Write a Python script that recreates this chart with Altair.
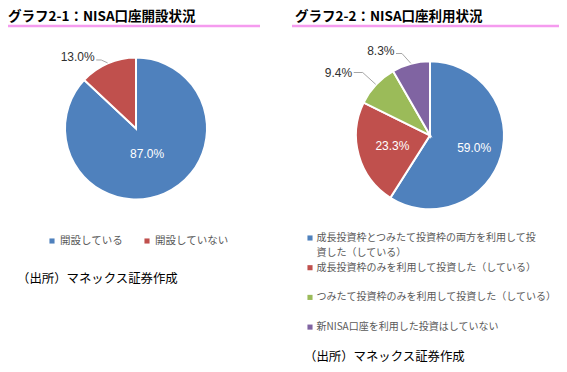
import math
import altair as alt
import pandas as pd

# ---------------- data ----------------
left_title = "グラフ2-1：NISA口座開設状況"
right_title = "グラフ2-2：NISA口座利用状況"
left_categories = ["開設している", "開設していない"]
left_values = [87.0, 13.0]
right_categories = [
    "成長投資枠とつみたて投資枠の両方を利用して投資した（している）",
    "成長投資枠のみを利用して投資した（している）",
    "つみたて投資枠のみを利用して投資した（している）",
    "新NISA口座を利用した投資はしていない",
]
right_values = [59.0, 23.3, 9.4, 8.3]
source_text = "（出所）マネックス証券作成"

# ---------------- style ----------------
palette = ["#4F81BD", "#C0504D", "#9BBB59", "#8064A2"]
OFF = 8
JP = "Noto Sans CJK JP"
NUM = "Liberation Sans"
W, H = 551, 356

# pie geometry (page coordinates)
L = dict(cx=136, cy=128.5, R=71)
Rr = dict(cx=430, cy=135.3, R=74)
# label placement styles: inside radius, or outside leader (elbow dx, dy, horizontal length, text dy)
left_label_style = [("in", 28), ("out", (-6.4, -2.9, 5, -3))]
right_label_style = [("in", 46), ("in", 39), ("out", (-13, -11.8, 9, 0)), ("out", (-8.8, -9.8, 6, -3))]


def pie_df(cats, vals):
    return pd.DataFrame({"category": cats, "value": vals, "idx": list(range(len(cats))),
                         "color": palette[:len(cats)]})


def label_frames(vals, geo, styles, key):
    total = sum(vals)
    cum = 0.0
    texts, lines = [], []
    for i, (v, st) in enumerate(zip(vals, styles)):
        a = 2 * math.pi * (cum + v / 2) / total
        cum += v
        s, c = math.sin(a), -math.cos(a)
        lab = f"{v:.1f}%"
        if st[0] == "in":
            r = st[1]
            texts.append(dict(x=geo["cx"] + r * s - OFF, y=geo["cy"] + r * c - OFF, t=lab,
                              align="center"))
        else:
            edx, edy, hl, tdy = st[1]
            ix, iy = geo["cx"] + (geo["R"] + 0.5) * s, geo["cy"] + (geo["R"] + 0.5) * c
            ex, ey = ix + edx, iy + edy
            ox, oy = ex - hl, ey
            pid = f"{key}{i}"
            for k, (xx, yy) in enumerate([(ox, oy), (ex, ey), (ix, iy)]):
                lines.append(dict(x=xx - OFF, y=yy - OFF, k=k, id=pid))
            texts.append(dict(x=ox - 1.5 - OFF, y=oy + tdy - OFF, t=lab, align="right"))
    return pd.DataFrame(texts), pd.DataFrame(lines)


def pie_layer(df, geo):
    return alt.Chart(df).mark_arc(radius=geo["R"], stroke="white", strokeWidth=2).encode(
        theta=alt.Theta("value:Q", stack=True),
        color=alt.Color("color:N", scale=None),
        order=alt.Order("idx:Q", sort="ascending"),
        x=alt.value(geo["cx"] - OFF),
        y=alt.value(geo["cy"] - OFF),
    )


XS = dict(scale=None, axis=None)

lt, ll = label_frames(left_values, L, left_label_style, "l")
rt, rl = label_frames(right_values, Rr, right_label_style, "r")
labels = pd.concat([lt, rt], ignore_index=True)
leaders = pd.concat([ll, rl], ignore_index=True)

inside = labels[labels["align"] == "center"]
outside = labels[labels["align"] == "right"]

inside_layer = alt.Chart(inside).mark_text(font=NUM, fontSize=12, align="center", baseline="middle",
                                           color="white").encode(
    x=alt.X("x:Q", **XS), y=alt.Y("y:Q", **XS), text="t:N")
outside_layer = alt.Chart(outside).mark_text(font=NUM, fontSize=12, align="right", baseline="middle",
                                             color="#303030").encode(
    x=alt.X("x:Q", **XS), y=alt.Y("y:Q", **XS), text="t:N")
leader_layer = alt.Chart(leaders).mark_line(color="#A6A6A6", strokeWidth=1).encode(
    x=alt.X("x:Q", **XS), y=alt.Y("y:Q", **XS), detail="id:N", order="k:Q")

# titles
titles = pd.DataFrame({"t": [left_title, right_title], "x": [8 - OFF, 295 - OFF], "y": [16.5 - OFF, 16.5 - OFF]})
title_layer = alt.Chart(titles).mark_text(font=JP, fontSize=13.5, fontWeight="bold", align="left",
                                          baseline="middle", color="black").encode(
    x=alt.X("x:Q", **XS), y=alt.Y("y:Q", **XS), text="t:N")
rule_df = pd.DataFrame({"x": [8 - OFF, 292 - OFF], "x2": [260 - OFF, 559 - OFF], "y": [26 - OFF, 26 - OFF]})
rule_layer = alt.Chart(rule_df).mark_rule(color="#F59BEF", strokeWidth=2.5).encode(
    x=alt.X("x:Q", **XS), x2="x2:Q", y=alt.Y("y:Q", **XS))

# legends
leg_rows, sq_rows = [], []
for i, c in enumerate(left_categories):
    sx = 52 + 95 * i
    sq_rows.append(dict(x=sx - OFF, y=241 - OFF, color=palette[i]))
    leg_rows.append(dict(x=sx + 8 - OFF, y=241 - OFF, t=c, side="L"))
for i, c in enumerate(right_categories):
    y0 = 238 + 29.7 * i
    sq_rows.append(dict(x=310 - OFF, y=y0 - OFF, color=palette[i]))
    parts = [c[:22], c[22:]] if len(c) > 24 else [c]
    for j, p in enumerate(parts):
        leg_rows.append(dict(x=316.5 - OFF, y=y0 + 15.3 * j - OFF, t=p, side="R"))
leg_df = pd.DataFrame(leg_rows)
sq_df = pd.DataFrame(sq_rows)

leg_left = alt.Chart(leg_df[leg_df["side"] == "L"]).mark_text(font=JP, fontSize=10.5, align="left",
                                                                baseline="middle", color="#595959").encode(
    x=alt.X("x:Q", **XS), y=alt.Y("y:Q", **XS), text="t:N")
leg_right = alt.Chart(leg_df[leg_df["side"] == "R"]).mark_text(font=JP, fontSize=10.0, align="left",
                                                                 baseline="middle", color="#595959").encode(
    x=alt.X("x:Q", **XS), y=alt.Y("y:Q", **XS), text="t:N")
sq_layer = alt.Chart(sq_df).mark_square(size=26, opacity=1).encode(
    x=alt.X("x:Q", **XS), y=alt.Y("y:Q", **XS), color=alt.Color("color:N", scale=None))

src_df = pd.DataFrame({"t": [source_text, source_text], "x": [17 - OFF, 304 - OFF], "y": [279 - OFF, 357 - OFF]})
src_layer = alt.Chart(src_df).mark_text(font=JP, fontSize=12.4, align="left", baseline="middle",
                                        color="black").encode(
    x=alt.X("x:Q", **XS), y=alt.Y("y:Q", **XS), text="t:N")

chart = alt.layer(
    rule_layer, title_layer,
    pie_layer(pie_df(left_categories, left_values), L),
    pie_layer(pie_df(right_categories, right_values), Rr),
    leader_layer, inside_layer, outside_layer,
    sq_layer, leg_left, leg_right, src_layer,
).resolve_scale(theta="independent").properties(
    width=W, height=H, padding=0, autosize="none", background="white"
).configure_view(stroke=None)

chart.save("out.html", embed_options={"renderer": "svg", "actions": False})
